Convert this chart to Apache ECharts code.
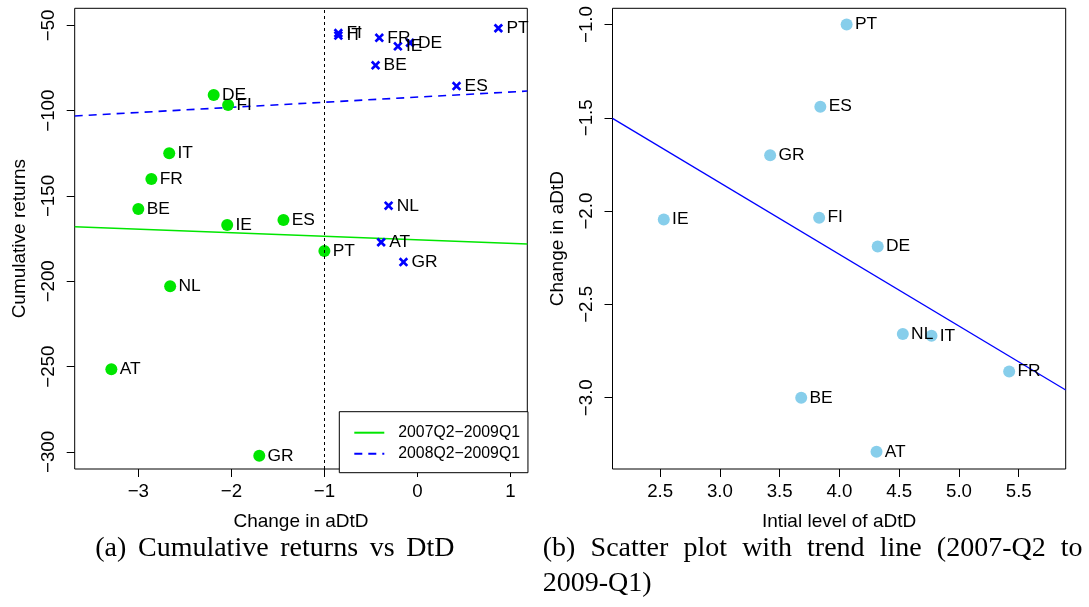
<!DOCTYPE html>
<html><head><meta charset="utf-8">
<script src="https://cdn.jsdelivr.net/npm/echarts@6/dist/echarts.min.js"></script>
<style>html,body{margin:0;padding:0;background:#fff}#c{width:1089px;height:607px}</style>
</head><body><div id="c"></div>
<script>
// ---- data ----
const countries = ['AT','BE','DE','ES','FI','FR','GR','IE','IT','NL','PT'];
// change in aDtD, 2007Q2-2009Q1 (x of left green points, y of right panel)
const changeA = [-3.29,-3.00,-2.19,-1.44,-2.035,-2.86,-1.70,-2.045,-2.668,-2.658,-1.00];
const cumRetA = [-251.5,-157.6,-90.8,-164.1,-96.7,-140.0,-302.3,-167.0,-125.0,-202.9,-182.2];
// change in aDtD, 2008Q2-2009Q1
const changeB = [-0.39,-0.45,-0.08,0.42,-0.85,-0.41,-0.15,-0.21,-0.85,-0.31,0.87];
const cumRetB = [-177.1,-73.4,-60.2,-85.6,-54.5,-57.3,-188.7,-62.3,-56.0,-155.7,-51.7];
// initial level of aDtD
const initLevel = [4.31,3.68,4.32,3.84,3.83,5.42,3.42,2.53,4.77,4.53,4.06];
// fitted lines: [intercept, slope]
const fitA = [-175.65,-2.076];
const fitB = [-92.05,3.0];
const fitR = [-0.696,-0.384];
const xTicksL = [-3,-2,-1,0,1];
const yTicksL = [-300,-250,-200,-150,-100,-50];
const xTicksR = [2.5,3,3.5,4,4.5,5,5.5];
const yTicksR = [-3,-2.5,-2,-1.5,-1];
const legendNames = ['2007Q2\u22122009Q1','2008Q2\u22122009Q1'];
const refX = -1;

// ---- layout ----
const FF = '"Liberation Sans", Arial, sans-serif';
const SERIF = '"Liberation Serif", "Times New Roman", serif';
const XL = [-3.684, 1.181], YL = [-310, -40];
const XR = [2.101, 5.893], YR = [-3.382, -0.913];
const GREEN = '#00e600', BLUE = '#0000ff', SKY = '#87ceeb';
const minus = s => String(s).replace('-', '\u2212');
const fmt0 = v => minus(v);
const fmt1 = v => minus(v.toFixed(1));
const crossPath = 'path://M2,0L5,3L8,0L10,2L7,5L10,8L8,10L5,7L2,10L0,8L3,5L0,2Z';

function pts(xs, ys){ return xs.map((x,i)=>[x, ys[i], countries[i]]); }
function fitLine(f, r){ return [[r[0], f[0]+f[1]*r[0]],[r[1], f[0]+f[1]*r[1]]]; }

function xAxisCfg(gi, r, ticks, fmt, name){
  return {gridIndex:gi, type:'value', min:r[0], max:r[1],
    axisLine:{show:false, onZero:false}, splitLine:{show:false},
    axisTick:{show:true, length:8, customValues:ticks, lineStyle:{color:'#000', width:1}},
    axisLabel:{customValues:ticks, formatter:fmt, fontSize:18.7, color:'#000', margin:13, fontFamily:FF},
    name:name, nameLocation:'middle', nameGap:43.5,
    nameTextStyle:{fontSize:19, color:'#000', fontFamily:FF}};
}
function yAxisCfg(gi, r, ticks, fmt, name){
  return {gridIndex:gi, type:'value', min:r[0], max:r[1],
    axisLine:{show:false, onZero:false}, splitLine:{show:false},
    axisTick:{show:true, length:8, customValues:ticks, lineStyle:{color:'#000', width:1}},
    axisLabel:{customValues:ticks, formatter:fmt, fontSize:18.7, color:'#000', margin:16, rotate:90, fontFamily:FF},
    name:name, nameLocation:'middle', nameGap:45,
    nameTextStyle:{fontSize:19, color:'#000', fontFamily:FF}};
}
const ptLabel = d => ({show:true, position:'right', distance:d, color:'#000', fontSize:17.4, fontFamily:FF,
  formatter: p => p.data[2]});

// captions laid out word by word (justified like the source)
const mctx = document.createElement('canvas').getContext('2d');
function words(text, x0, x1, y, font){
  const ws = text.split(' ');
  mctx.font = font;
  const wid = ws.map(w => mctx.measureText(w).width);
  const total = wid.reduce((a,b)=>a+b,0);
  const gap = ws.length>1 ? (x1-x0-total)/(ws.length-1) : 0;
  let x = x0; const out = [];
  ws.forEach((w,i)=>{ out.push({type:'text', x:x, y:y, style:{text:w, font:font, fill:'#000', verticalAlign:'middle', align:'left'}}); x += wid[i]+gap; });
  return out;
}
const capFont = '28px ' + SERIF;
const capY = 548.5;
const graphics = [].concat(
  words('(a) Cumulative returns vs DtD', 95.2, 454.5, capY, capFont),
  words('(b) Scatter plot with trend line (2007-Q2 to', 542.8, 1082.6, capY, capFont),
  words('2009-Q1)', 542.8, 542.8, capY + 35, capFont)
);

const option = {
  animation:false,
  backgroundColor:'#fff',
  grid:[
    {left:74.7, top:8.3, width:452.6, height:460.7, show:true, borderColor:'#000', borderWidth:1, backgroundColor:'transparent'},
    {left:612.5, top:8.3, width:453.2, height:460.7, show:true, borderColor:'#000', borderWidth:1, backgroundColor:'transparent'}
  ],
  xAxis:[ xAxisCfg(0, XL, xTicksL, fmt0, 'Change in aDtD'), xAxisCfg(1, XR, xTicksR, fmt1, 'Intial level of aDtD') ],
  yAxis:[ yAxisCfg(0, YL, yTicksL, fmt0, 'Cumulative returns'), yAxisCfg(1, YR, yTicksR, fmt1, 'Change in aDtD') ],
  legend:{
    data:legendNames, orient:'vertical', left:339.3, top:411.7,
    padding:[13,8,11,14], itemWidth:30, itemHeight:14, itemGap:5,
    borderColor:'#000', borderWidth:1, borderRadius:0, backgroundColor:'#fff',
    itemStyle:{opacity:0},
    textStyle:{fontSize:15.8, color:'#000', fontFamily:FF, padding:[0,0,0,9]},
    selectedMode:false
  },
  series:[
    {type:'line', name:legendNames[0], xAxisIndex:0, yAxisIndex:0, data:fitLine(fitA, XL), symbol:'none',
      lineStyle:{color:GREEN, width:1.6, type:'solid'}, itemStyle:{color:GREEN}, z:3},
    {type:'line', name:legendNames[1], xAxisIndex:0, yAxisIndex:0, data:fitLine(fitB, XL), symbol:'none',
      lineStyle:{color:BLUE, width:1.6, type:[8,6]}, itemStyle:{color:BLUE}, z:3},
    {type:'scatter', name:'green', xAxisIndex:0, yAxisIndex:0, data:pts(changeA, cumRetA),
      symbol:'circle', symbolSize:12, itemStyle:{color:GREEN, opacity:1}, label:ptLabel(2.3), z:4,
      markLine:{silent:true, symbol:['none','none'], label:{show:false},
        lineStyle:{color:'#000', width:1, type:[3,3]}, data:[{xAxis:refX}]}},
    {type:'scatter', name:'blue', xAxisIndex:0, yAxisIndex:0, data:pts(changeB, cumRetB),
      symbol:crossPath, symbolSize:9.5, itemStyle:{color:BLUE, opacity:1}, label:ptLabel(3.3), z:4},
    {type:'scatter', name:'sky', xAxisIndex:1, yAxisIndex:1, data:pts(initLevel, changeA),
      symbol:'circle', symbolSize:12, itemStyle:{color:SKY, opacity:1}, label:ptLabel(2.3), z:4},
    {type:'line', name:'trend', xAxisIndex:1, yAxisIndex:1, data:fitLine(fitR, XR), symbol:'none',
      lineStyle:{color:BLUE, width:1.3}, z:3}
  ],
  graphic: graphics
};
const chart = echarts.init(document.getElementById('c'), null, {renderer:'canvas'});
chart.setOption(option);
</script></body></html>
